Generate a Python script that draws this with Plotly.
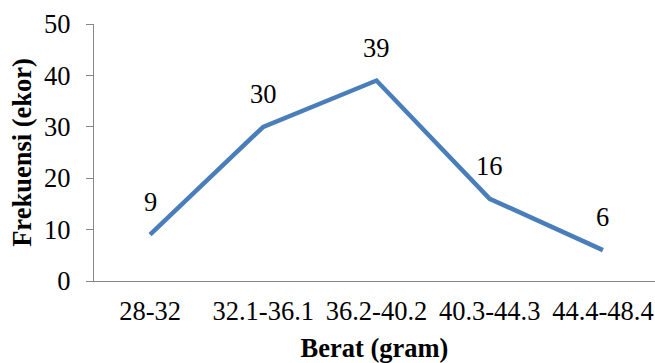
import plotly.graph_objects as go

# Frequency distribution of body weight classes
weight_classes = ["28-32", "32.1-36.1", "36.2-40.2", "40.3-44.3", "44.4-48.4"]
frequency = [9, 30, 39, 16, 6]

FONT = "Times New Roman, Liberation Serif, serif"
FS = 26.5
LINE_BLUE = "#4a7ebb"
AXIS_GRAY = "#868686"

fig = go.Figure()
fig.add_trace(go.Scatter(
    x=weight_classes,
    y=frequency,
    mode="lines",
    line=dict(color=LINE_BLUE, width=4.5),
    hoverinfo="skip",
    showlegend=False,
))

# value labels above each point
for cat, val in zip(weight_classes, frequency):
    fig.add_annotation(
        x=cat, y=val, text=str(val), showarrow=False,
        yshift=33, font=dict(family=FONT, size=FS, color="#000000"),
    )

fig.update_layout(
    width=655, height=363,
    margin=dict(l=94, r=0, t=24, b=82),
    paper_bgcolor="white", plot_bgcolor="white",
    font=dict(family=FONT, color="#000000"),
    xaxis=dict(
        type="category",
        range=[-0.495, 4.46],
        showline=True, linecolor=AXIS_GRAY, linewidth=1.3,
        showgrid=False, zeroline=False, ticks="",
        tickfont=dict(family=FONT, size=FS),
        ticklabelstandoff=6,
        title=dict(text="<b>Berat (gram)</b>", font=dict(family=FONT, size=FS), standoff=15),
    ),
    yaxis=dict(
        range=[0, 50], dtick=10,
        showline=True, linecolor=AXIS_GRAY, linewidth=1.3,
        ticks="outside", ticklen=7, tickcolor=AXIS_GRAY, tickwidth=1.3,
        showgrid=False, zeroline=False,
        tickfont=dict(family=FONT, size=FS),
        ticklabelstandoff=10,
        title=dict(text="<b>Frekuensi (ekor)</b>", font=dict(family=FONT, size=FS), standoff=4),
    ),
)

fig.write_html("out.html")
